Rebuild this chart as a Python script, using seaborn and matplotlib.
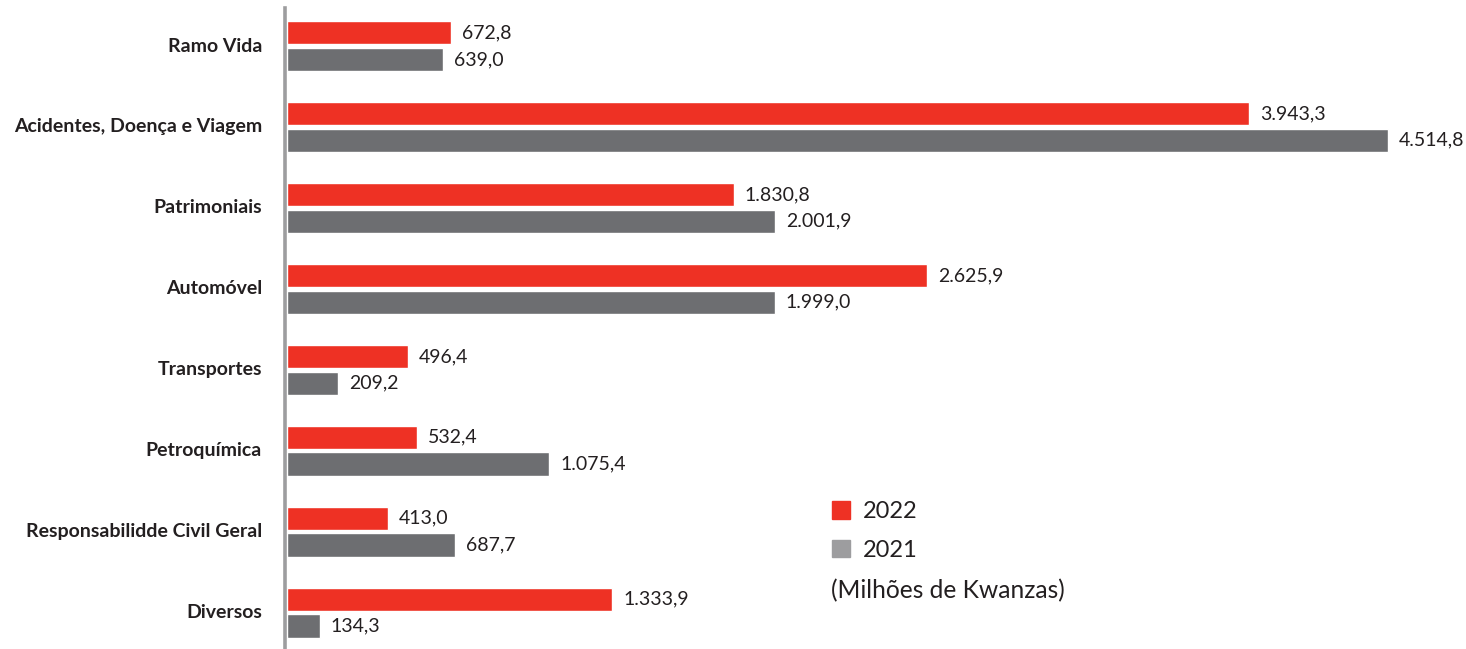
import matplotlib
matplotlib.use('Agg')
import matplotlib.pyplot as plt
import pandas as pd
import seaborn as sns
from matplotlib.patches import Patch

categorias = ['Ramo Vida', 'Acidentes, Doença e Viagem', 'Patrimoniais', 'Automóvel',
              'Transportes', 'Petroquímica', 'Responsabilidde Civil Geral', 'Diversos']
valores_2022 = [672.8, 3943.3, 1830.8, 2625.9, 496.4, 532.4, 413.0, 1333.9]
valores_2021 = [639.0, 4514.8, 2001.9, 1999.0, 209.2, 1075.4, 687.7, 134.3]
anos = ['2022', '2021']

VERMELHO = '#ee3124'
CINZA = '#6d6e71'
CINZA_CLARO = '#9d9d9f'
TEXTO = '#231f20'


def formatar_valor(v):
    s = f'{v:,.1f}'
    return s.replace(',', 'X').replace('.', ',').replace('X', '.')


def montar_dados():
    linhas = []
    for ano, valores in zip(anos, [valores_2022, valores_2021]):
        for cat, v in zip(categorias, valores):
            linhas.append({'categoria': cat, 'ano': ano, 'valor': v})
    return pd.DataFrame(linhas)


def gerar_plotagem(dados):
    sns.set_theme(style='white')
    plt.rcParams['font.family'] = ['Lato', 'DejaVu Sans']

    fig = plt.figure(figsize=(14.66, 6.49), dpi=100)
    ax = fig.add_axes([287 / 1466, 0.0, 1 - 287 / 1466, 1 - 8 / 649])

    sns.barplot(data=dados, y='categoria', x='valor', hue='ano', hue_order=anos,
                order=categorias, palette={'2022': VERMELHO, '2021': CINZA},
                orient='h', width=0.66, gap=0.13, legend=False, ax=ax,
                saturation=1)

    for cont, valores in zip(ax.containers, [valores_2022, valores_2021]):
        ax.bar_label(cont, labels=[formatar_valor(v) for v in valores],
                     padding=8, fontsize=14, color=TEXTO)

    ax.set_xlim(0, 4834)
    ax.set_ylim(7.45, -0.47)
    ax.set_xlabel('')
    ax.set_ylabel('')
    ax.set_xticks([])
    ax.set_yticks(range(len(categorias)))
    ax.set_yticklabels([])
    ax.tick_params(axis='y', length=0)

    # rótulos das categorias em negrito, escritos à parte
    trans = ax.get_yaxis_transform()
    for i, cat in enumerate(categorias):
        ax.text(-25 / 1179, i, cat, transform=trans, ha='right', va='center',
                family='Lato', fontweight='bold', fontsize=14, color=TEXTO)

    for lado in ['top', 'right', 'bottom']:
        ax.spines[lado].set_visible(False)
    ax.spines['left'].set_color(CINZA_CLARO)
    ax.spines['left'].set_linewidth(2.6)
    ax.spines['left'].set_position(('data', -8))

    alcas = [Patch(color=VERMELHO), Patch(color=CINZA_CLARO)]
    fig.legend(alcas, anos, loc='upper left', bbox_to_anchor=(811 / 1466, 1 - 480 / 649),
               frameon=False, fontsize=17, handlelength=0.76, handleheight=0.76,
               handletextpad=0.55, labelspacing=0.75, labelcolor=TEXTO)
    fig.text(831 / 1466, 1 - 591 / 649, '(Milhões de Kwanzas)', fontsize=17.7,
             va='center', ha='left', color=TEXTO)

    return fig


if __name__ == '__main__':
    dados = montar_dados()
    fig = gerar_plotagem(dados)
    fig.savefig('out.png', dpi=100)
